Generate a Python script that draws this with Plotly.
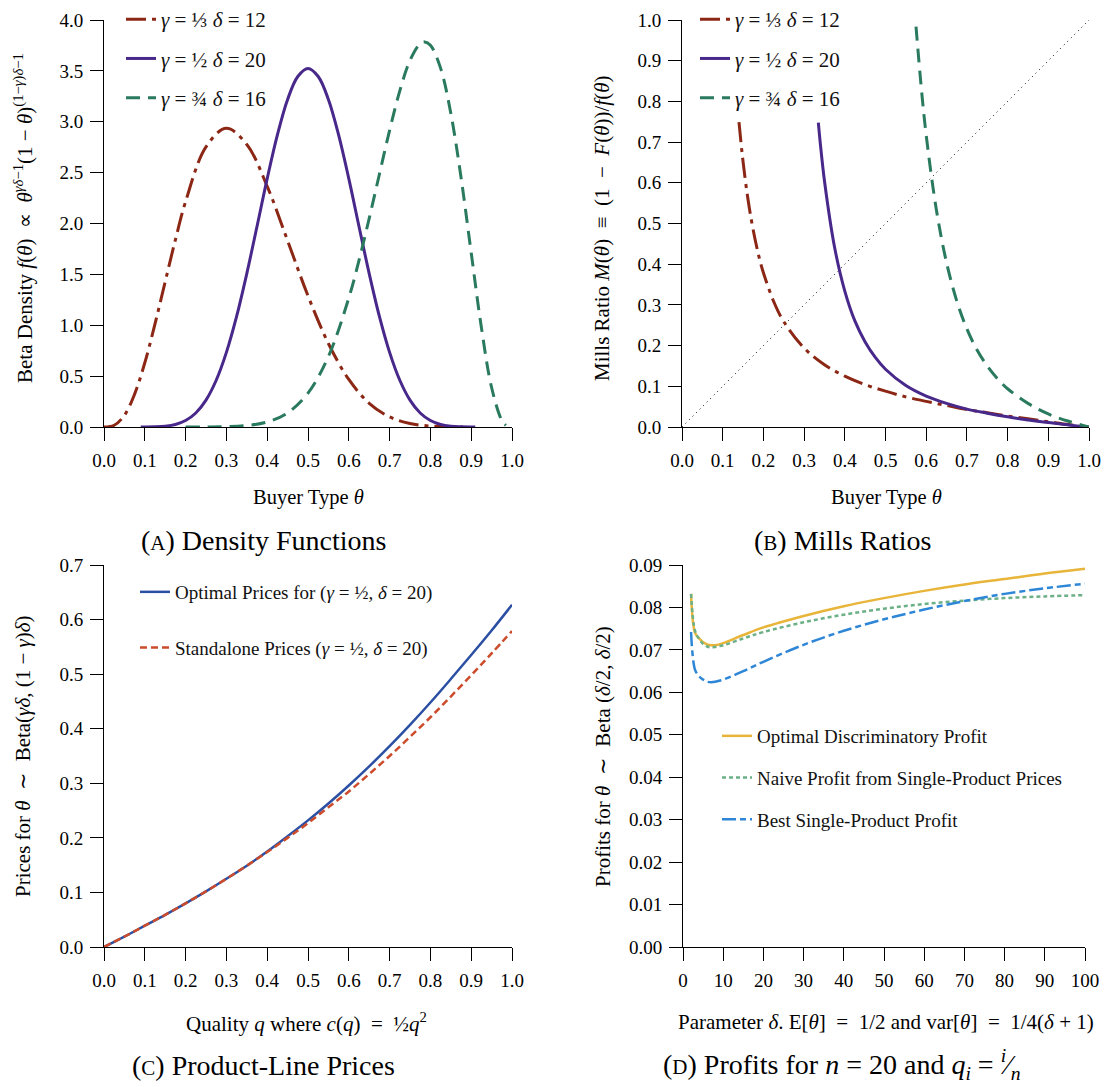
import plotly.graph_objects as go

# page offset (browser body margin) compensation
OFF = 8
FW, FH = 1109 - OFF, 1087 - OFF
FONT = "Liberation Serif"

# ---------------- Panel A: densities ----------------
theta_a_red = [0.0, 0.025, 0.05, 0.075, 0.1, 0.125, 0.15, 0.175, 0.2, 0.25, 0.3, 0.35, 0.4,
               0.45, 0.5, 0.55, 0.6, 0.65, 0.7, 0.75, 0.8, 0.85, 0.88]
dens_red = [0.0, 0.017, 0.115, 0.323, 0.631, 1.013, 1.428, 1.840, 2.215, 2.753, 2.935, 2.776, 2.365,
            1.831, 1.289, 0.821, 0.467, 0.233, 0.099, 0.034, 0.009, 0.0014, 0.0003]

theta_a_purple = [0.09, 0.1, 0.125, 0.15, 0.175, 0.2, 0.225, 0.25, 0.275, 0.3, 0.325, 0.35, 0.375,
                  0.4, 0.425, 0.45, 0.475, 0.5, 0.525, 0.55, 0.575, 0.6, 0.625, 0.65, 0.675, 0.7,
                  0.725, 0.75, 0.775, 0.8, 0.825, 0.85, 0.875, 0.9, 0.91]
dens_purple = [0.0002, 0.0004, 0.0021, 0.0082, 0.0252, 0.0635, 0.1377, 0.2646, 0.4597, 0.7337, 1.087,
               1.508, 1.971, 2.441, 2.871, 3.219, 3.445, 3.524, 3.445, 3.219, 2.871, 2.441, 1.971,
               1.508, 1.087, 0.7337, 0.4597, 0.2646, 0.1377, 0.0635, 0.0252, 0.0082, 0.0021, 0.0004,
               0.0002]

theta_a_green = [0.2, 0.25, 0.3, 0.35, 0.4, 0.45, 0.5, 0.55, 0.6, 0.625, 0.65, 0.675, 0.7, 0.725,
                 0.75, 0.775, 0.7857, 0.8, 0.825, 0.85, 0.875, 0.9, 0.925, 0.95, 0.975, 0.985]
dens_green = [0.0001, 0.0005, 0.0033, 0.0145, 0.0495, 0.139, 0.333, 0.693, 1.268, 1.637, 2.050, 2.484,
              2.915, 3.304, 3.603, 3.768, 3.785, 3.752, 3.527, 3.084, 2.455, 1.713, 0.977, 0.388,
              0.065, 0.016]

# ---------------- Panel B: Mills ratios ----------------
theta_b_red = [0.14, 0.145, 0.15, 0.16, 0.17, 0.18, 0.19, 0.2, 0.225, 0.25, 0.3, 0.35, 0.4, 0.45,
               0.5, 0.55, 0.6, 0.65, 0.7, 0.75, 0.8, 0.85, 0.9, 0.95, 1.0]
mills_red = [0.749, 0.698, 0.652, 0.574, 0.511, 0.459, 0.415, 0.379, 0.309, 0.259, 0.194, 0.153,
             0.125, 0.104, 0.088, 0.074, 0.063, 0.053, 0.043, 0.035, 0.027, 0.020, 0.013, 0.006, 0.0]

theta_b_purple = [0.335, 0.34, 0.35, 0.375, 0.4, 0.425, 0.45, 0.475, 0.5, 0.55, 0.6, 0.65, 0.7,
                  0.75, 0.8, 0.85, 0.9, 0.95, 1.0]
mills_purple = [0.748, 0.695, 0.605, 0.441, 0.334, 0.260, 0.209, 0.171, 0.142, 0.102, 0.076, 0.058,
                0.044, 0.034, 0.025, 0.017, 0.011, 0.005, 0.0]

theta_b_green = [0.575, 0.5875, 0.6, 0.625, 0.65, 0.675, 0.7, 0.725, 0.75, 0.775, 0.8, 0.85, 0.9,
                 0.95, 1.0]
mills_green = [0.984, 0.838, 0.717, 0.534, 0.404, 0.310, 0.241, 0.189, 0.150, 0.119, 0.094, 0.058,
               0.032, 0.014, 0.0]

diag_x = [0.0, 1.0]
diag_y = [0.0, 1.0]

# ---------------- Panel C: prices ----------------
quality = [0.0, 0.05, 0.1, 0.15, 0.2, 0.25, 0.3, 0.35, 0.4, 0.45, 0.5, 0.55, 0.6, 0.65, 0.7, 0.75,
           0.8, 0.85, 0.9, 0.95, 1.0]
price_opt = [0.0, 0.019, 0.039, 0.059, 0.080, 0.102, 0.125, 0.149, 0.175, 0.203, 0.232, 0.263,
             0.296, 0.331, 0.368, 0.407, 0.448, 0.491, 0.535, 0.580, 0.627]
price_alone = [0.0, 0.019, 0.039, 0.059, 0.080, 0.102, 0.125, 0.149, 0.174, 0.200, 0.227, 0.256,
               0.285, 0.317, 0.350, 0.385, 0.421, 0.459, 0.498, 0.538, 0.579]

# ---------------- Panel D: profits ----------------
delta = [2, 3, 4, 5, 6, 7, 8, 10, 15, 20, 30, 40, 50, 60, 70, 80, 90, 100]
profit_opt = [0.0832, 0.0740, 0.0727, 0.0718, 0.0713, 0.0711, 0.0711, 0.0716, 0.0735, 0.0753,
              0.0780, 0.0803, 0.0822, 0.0839, 0.0854, 0.0867, 0.0880, 0.0891]
profit_naive = [0.0832, 0.0745, 0.0726, 0.0714, 0.0708, 0.0706, 0.0707, 0.0711, 0.0727, 0.0742,
                0.0765, 0.0783, 0.0797, 0.0808, 0.0816, 0.0822, 0.0826, 0.0829]
profit_single = [0.0742, 0.0653, 0.0638, 0.0630, 0.0625, 0.0624, 0.0625, 0.0630, 0.0650, 0.0672,
                 0.0712, 0.0745, 0.0772, 0.0795, 0.0815, 0.0832, 0.0845, 0.0856]

# tick labels
ticks_theta = [0.0, 0.1, 0.2, 0.3, 0.4, 0.5, 0.6, 0.7, 0.8, 0.9, 1.0]
ticks_dens = [0.0, 0.5, 1.0, 1.5, 2.0, 2.5, 3.0, 3.5, 4.0]
ticks_mills = [0.0, 0.1, 0.2, 0.3, 0.4, 0.5, 0.6, 0.7, 0.8, 0.9, 1.0]
ticks_price = [0.0, 0.1, 0.2, 0.3, 0.4, 0.5, 0.6, 0.7]
ticks_profit = [0.0, 0.01, 0.02, 0.03, 0.04, 0.05, 0.06, 0.07, 0.08, 0.09]
ticks_delta = [0, 10, 20, 30, 40, 50, 60, 70, 80, 90, 100]

RED, PURPLE, GREEN = "#8B2714", "#48288A", "#2A7A5E"
BLUE_C, ORANGE_C = "#2A4FA3", "#CC4B2B"
YELLOW_D, GREEN_D, BLUE_D = "#E8B53A", "#6CB087", "#2E86D6"

NB = "\u00a0"
label_red = "<i>γ</i>" + NB + "=" + NB + "⅓" + NB + "<i>δ</i>" + NB + "=" + NB + "12"
label_purple = "<i>γ</i>" + NB + "=" + NB + "½" + NB + "<i>δ</i>" + NB + "=" + NB + "20"
label_green = "<i>γ</i>" + NB + "=" + NB + "¾" + NB + "<i>δ</i>" + NB + "=" + NB + "16"


def px(x):
    return (x - OFF) / FW


def py(y):
    return 1 - (y - OFF) / FH


fig = go.Figure()

dash_red = "20px,6px,4px,6px"
dash_green = "14px,8px"

# Panel A traces
fig.add_trace(go.Scatter(x=theta_a_red, y=dens_red, mode="lines", name=label_red,
                         line=dict(color=RED, width=3, dash=dash_red, shape="spline"),
                         xaxis="x", yaxis="y", legend="legend", legendgroup="a1"))
fig.add_trace(go.Scatter(x=theta_a_purple, y=dens_purple, mode="lines", name=label_purple,
                         line=dict(color=PURPLE, width=3, shape="spline"),
                         xaxis="x", yaxis="y", legend="legend", legendgroup="a2"))
fig.add_trace(go.Scatter(x=theta_a_green, y=dens_green, mode="lines", name=label_green,
                         line=dict(color=GREEN, width=3, dash=dash_green, shape="spline"),
                         xaxis="x", yaxis="y", legend="legend", legendgroup="a3"))

# Panel B traces
fig.add_trace(go.Scatter(x=diag_x, y=diag_y, mode="lines", showlegend=False,
                         line=dict(color="black", width=1, dash="1px,4px"),
                         xaxis="x2", yaxis="y2"))
fig.add_trace(go.Scatter(x=theta_b_red, y=mills_red, mode="lines", name=label_red,
                         line=dict(color=RED, width=3, dash=dash_red, shape="spline"),
                         xaxis="x2", yaxis="y2", legend="legend2", legendgroup="b1"))
fig.add_trace(go.Scatter(x=theta_b_purple, y=mills_purple, mode="lines", name=label_purple,
                         line=dict(color=PURPLE, width=3, shape="spline"),
                         xaxis="x2", yaxis="y2", legend="legend2", legendgroup="b2"))
fig.add_trace(go.Scatter(x=theta_b_green, y=mills_green, mode="lines", name=label_green,
                         line=dict(color=GREEN, width=3, dash=dash_green, shape="spline"),
                         xaxis="x2", yaxis="y2", legend="legend2", legendgroup="b3"))

# Panel C traces
fig.add_trace(go.Scatter(x=quality, y=price_opt, mode="lines",
                         name="Optimal Prices for (<i>γ</i> = ½, <i>δ</i> = 20)",
                         line=dict(color=BLUE_C, width=2.5, shape="spline"),
                         xaxis="x3", yaxis="y3", legend="legend3", legendgroup="c1"))
fig.add_trace(go.Scatter(x=quality, y=price_alone, mode="lines",
                         name="Standalone Prices (<i>γ</i> = ½, <i>δ</i> = 20)",
                         line=dict(color=ORANGE_C, width=2.5, dash="7px,4px", shape="spline"),
                         xaxis="x3", yaxis="y3", legend="legend3", legendgroup="c2"))

# Panel D traces
fig.add_trace(go.Scatter(x=delta, y=profit_opt, mode="lines", name="Optimal Discriminatory Profit",
                         line=dict(color=YELLOW_D, width=2.5, shape="spline"),
                         xaxis="x4", yaxis="y4", legend="legend4", legendgroup="d1"))
fig.add_trace(go.Scatter(x=delta, y=profit_naive, mode="lines",
                         name="Naive Profit from Single-Product Prices",
                         line=dict(color=GREEN_D, width=2.5, dash="4px,3px", shape="spline"),
                         xaxis="x4", yaxis="y4", legend="legend4", legendgroup="d2"))
fig.add_trace(go.Scatter(x=delta, y=profit_single, mode="lines", name="Best Single-Product Profit",
                         line=dict(color=BLUE_D, width=2.5, dash="14px,4px,6px,4px", shape="spline"),
                         xaxis="x4", yaxis="y4", legend="legend4", legendgroup="d3"))


def axis(domain, anchor, rng, tickvals, fmt, **kw):
    return dict(domain=domain, anchor=anchor, range=rng, tickvals=tickvals, tickformat=fmt,
                showline=True, linecolor="black", linewidth=1, ticks="outside", ticklen=13,
                tickwidth=1, tickcolor="black", showgrid=False, zeroline=False,
                ticklabelstandoff=3, automargin=False,
                tickfont=dict(size=19, family=FONT, color="black"), **kw)


XA = [px(104), px(512)]
XB = [px(682), px(1089)]
XD = [px(683), px(1085)]
YTOP = [py(427), py(20)]
YBOT = [py(947), py(565)]


def legend_at(x, y, gap, size=19):
    return dict(x=px(x), y=py(y), xanchor="left", yanchor="top", bgcolor="rgba(0,0,0,0)",
                font=dict(size=size, family=FONT, color="#111"), traceorder="grouped",
                tracegroupgap=gap, itemwidth=30)


fig.update_layout(
    width=FW, height=FH, margin=dict(l=0, r=0, t=0, b=0, autoexpand=False),
    paper_bgcolor="white", plot_bgcolor="white",
    font=dict(family=FONT, color="black"),
    xaxis=axis(XA, "y", [0, 1], ticks_theta, ".1f"),
    yaxis=axis(YTOP, "x", [0, 4.0], ticks_dens, ".1f"),
    xaxis2=axis(XB, "y2", [0, 1], ticks_theta, ".1f"),
    yaxis2=axis(YTOP, "x2", [0, 1.0], ticks_mills, ".1f"),
    xaxis3=axis(XA, "y3", [0, 1], ticks_theta, ".1f"),
    yaxis3=axis(YBOT, "x3", [0, 0.7], ticks_price, ".1f"),
    xaxis4=axis(XD, "y4", [0, 100], ticks_delta, "d"),
    yaxis4=axis(YBOT, "x4", [0, 0.09], ticks_profit, ".2f"),
    legend=legend_at(121, -1, 9, 21),
    legend2=legend_at(695, -1, 9, 21),
    legend3=legend_at(135, 573, 28),
    legend4=legend_at(717, 717, 14),
    showlegend=True,
)

ann = []


def text(x, y, s, size, angle=0):
    ann.append(dict(x=px(x), y=py(y), xref="paper", yref="paper", text=s, showarrow=False,
                    textangle=angle, xanchor="center", yanchor="middle",
                    font=dict(size=size, family=FONT, color="black")))


# x-axis titles
text(308, 497, "Buyer Type <i>θ</i>", 20.5)
text(886, 497, "Buyer Type <i>θ</i>", 20.5)
text(306, 1022, "Quality <i>q</i> where <i>c</i>(<i>q</i>) " + NB + "=" + NB + " ½<i>q</i><sup>2</sup>", 21)
text(886, 1022, "Parameter <i>δ</i>. E[<i>θ</i>]" + NB + " = " + NB + "1/2 and var[<i>θ</i>]" + NB + " = " + NB + "1/4(<i>δ</i> + 1)", 21)

# y-axis titles
text(23, 218, "Beta Density <i>f</i>(<i>θ</i>)" + NB + " ∝ " + NB + "<i>θ</i><sup><i>γδ</i>−1</sup>(1" + NB + "−" + NB + "<i>θ</i>)<sup>(1−<i>γ</i>)<i>δ</i>−1</sup>", 21, -90)
text(602, 228, "Mills Ratio <i>M</i>(<i>θ</i>)" + NB + " ≡ " + NB + "(1" + NB + " − " + NB + "<i>F</i>(<i>θ</i>))/<i>f</i>(<i>θ</i>)", 21, -90)
text(23, 756, "Prices for <i>θ</i>" + NB + " ∼ " + NB + "Beta(<i>γδ</i>, (1" + NB + "−" + NB + "<i>γ</i>)<i>δ</i>)", 21, -90)
text(603, 757, "Profits for <i>θ</i>" + NB + " ∼ " + NB + "Beta" + NB + "(<i>δ</i>/2, <i>δ</i>/2)", 21, -90)

# captions
SC = "<span style='font-size:21px'>{}</span>"
text(263, 541, "(" + SC.format("A") + ") Density Functions", 28)
text(842, 541, "(" + SC.format("B") + ") Mills Ratios", 28)
text(263, 1065, "(" + SC.format("C") + ") Product-Line Prices", 28)
text(842, 1064, "(" + SC.format("D") + ") Profits for <i>n</i>" + NB + "=" + NB + "20 and <i>q<sub>i</sub></i>" + NB + "=" + NB + "<sup><i>i</i></sup>⁄<sub><i>n</i></sub>", 28)

fig.update_layout(annotations=ann)

fig.write_html("out.html", default_width=f"{FW}px", default_height=f"{FH}px")
